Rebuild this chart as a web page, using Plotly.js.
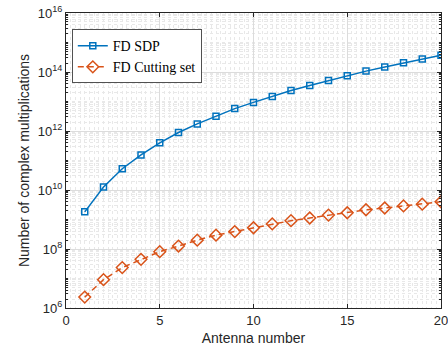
<!DOCTYPE html>
<html>
<head>
<meta charset="utf-8">
<script src="https://cdn.plot.ly/plotly-3.0.1.min.js"></script>
<style>html,body{margin:0;padding:0;background:#fff;}#chart{width:448px;height:352px;}</style>
</head>
<body>
<div id="chart"></div>
<script>
var antennas = [1,2,3,4,5,6,7,8,9,10,11,12,13,14,15,16,17,18,19,20];
var sdpLog = [9.26,10.10,10.72,11.19,11.60,11.95,12.24,12.50,12.76,12.97,13.17,13.37,13.54,13.71,13.87,14.03,14.17,14.31,14.44,14.57];
var cutLog = [6.37,6.96,7.37,7.65,7.91,8.10,8.30,8.47,8.59,8.72,8.85,8.96,9.05,9.15,9.23,9.33,9.39,9.46,9.52,9.60];
var sdpValues = sdpLog.map(function(v){return Math.pow(10,v);});
var cutValues = cutLog.map(function(v){return Math.pow(10,v);});
var yTickVals = [1e6,1e8,1e10,1e12,1e14,1e16];
var yTickText = ["10<sup>6</sup>","10<sup>8</sup>","10<sup>10</sup>","10<sup>12</sup>","10<sup>14</sup>","10<sup>16</sup>"];
var xTickVals = [0,5,10,15,20];

var traces = [
  {x: antennas, y: sdpValues, name: 'FD SDP', mode: 'lines+markers', type: 'scatter',
   line: {color: '#0072BD', width: 1.5},
   marker: {symbol: 'square-open', size: 6, color: '#0072BD', line: {width: 1.5}}},
  {x: antennas, y: cutValues, name: 'FD Cutting set', mode: 'lines+markers', type: 'scatter',
   line: {color: '#D95319', width: 1.5, dash: '6px,4px'},
   marker: {symbol: 'diamond-open', size: 9, color: '#D95319', line: {width: 1.5}}}
];

var axisFont = {family: 'Liberation Sans, Arial, sans-serif', size: 13, color: '#262626'};
var layout = {
  width: 448, height: 352,
  margin: {l: 66, r: 7, t: 13, b: 44},
  paper_bgcolor: '#fff', plot_bgcolor: '#fff',
  showlegend: true,
  legend: {x: 0.016, y: 0.945, xanchor: 'left', yanchor: 'top',
    font: {family: 'Liberation Serif, Times New Roman, serif', size: 14, color: '#000'},
    bgcolor: '#fff', bordercolor: '#262626', borderwidth: 0.8,
    tracegroupgap: 0, itemwidth: 30},
  xaxis: {range: [0, 20], tickvals: xTickVals, ticks: 'inside', ticklen: 4,
    tickcolor: '#262626', showline: true, linecolor: '#262626', linewidth: 1, mirror: 'ticks',
    showgrid: true, gridcolor: '#dcdcdc', gridwidth: 1, zeroline: false,
    tickfont: axisFont, ticklabeloverflow: 'allow',
    minor: {dtick: 0.25, showgrid: true, gridcolor: '#e8e8e8', griddash: 'dot', ticks: ''},
    title: {text: 'Antenna number', font: {family: 'Liberation Sans, Arial, sans-serif', size: 14, color: '#262626'}, standoff: 6}},
  yaxis: {type: 'log', range: [6, 16], tickvals: yTickVals, ticktext: yTickText,
    ticks: 'inside', ticklen: 4, tickcolor: '#262626',
    showline: true, linecolor: '#262626', linewidth: 1, mirror: 'ticks',
    showgrid: true, gridcolor: '#dcdcdc', gridwidth: 1, zeroline: false,
    tickfont: axisFont, ticklabeloverflow: 'allow',
    minor: {dtick: 'D1', showgrid: true, gridcolor: '#e8e8e8', griddash: 'dot', ticks: 'inside', ticklen: 2, tickcolor: '#262626'},
    title: {text: 'Number of complex multiplications', font: {family: 'Liberation Sans, Arial, sans-serif', size: 14, color: '#262626'}, standoff: 4}}
};

Plotly.newPlot('chart', traces, layout, {displayModeBar: false, staticPlot: true});
</script>
</body>
</html>
